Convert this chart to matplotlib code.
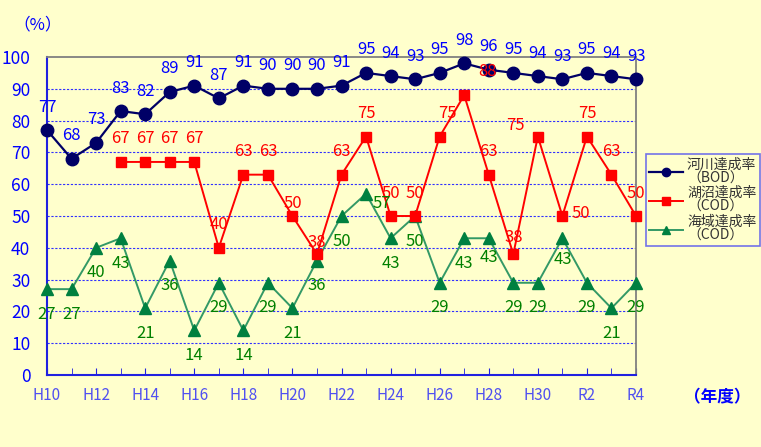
import matplotlib.pyplot as plt
import numpy as np

plt.rcParams['font.family'] = ['Noto Sans CJK JP', 'DejaVu Sans']

# fiscal years H10 .. R4
years = ['H10', 'H11', 'H12', 'H13', 'H14', 'H15', 'H16', 'H17', 'H18', 'H19',
         'H20', 'H21', 'H22', 'H23', 'H24', 'H25', 'H26', 'H27', 'H28', 'H29',
         'H30', 'R1', 'R2', 'R3', 'R4']
tick_labels = ['H10', 'H12', 'H14', 'H16', 'H18', 'H20', 'H22', 'H24', 'H26',
               'H28', 'H30', 'R2', 'R4']

river = [77, 68, 73, 83, 82, 89, 91, 87, 91, 90, 90, 90, 91, 95, 94, 93, 95,
         98, 96, 95, 94, 93, 95, 94, 93]
lake = [np.nan, np.nan, np.nan, 67, 67, 67, 67, 40, 63, 63, 50, 38, 63, 75,
        50, 50, 75, 88, 63, 38, 75, 50, 75, 63, 50]
sea = [27, 27, 40, 43, 21, 36, 14, 29, 14, 29, 21, 36, 50, 57, 43, 50, 29, 43,
       43, 29, 29, 43, 29, 21, 29]

# label offsets in pixels where the default spot is crowded
lake_shift = {10: (0, 13), 11: (0, 12), 16: (8, 23), 17: (23, 24),
              19: (0, 17), 20: (-22, 11), 21: (19, 3)}
sea_shift = {13: (16, -10), 18: (0, -19), 21: (0, -21)}

bg = '#FFFFCC'
fig = plt.figure(figsize=(7.61, 4.47), dpi=100, facecolor=bg)
ax = fig.add_axes([47 / 761, 72 / 447, 589 / 761, 318 / 447], facecolor=bg)

x = np.arange(len(years))

ax.plot(x, river, color='#000066', lw=1.6, marker='o', ms=9,
        label='河川達成率\n（BOD）', clip_on=False, zorder=5)
ax.plot(x, lake, color='#FF0000', lw=1.4, marker='s', ms=7,
        label='湖沼達成率\n（COD）', clip_on=False, zorder=4)
ax.plot(x, sea, color='#339966', lw=1.4, marker='^', ms=8.5,
        markerfacecolor='#008040', markeredgecolor='#008040',
        label='海域達成率\n（COD）', clip_on=False, zorder=3)

lbl = dict(textcoords='offset pixels', ha='center', va='center', fontsize=12,
           annotation_clip=False, zorder=6)
for i, v in enumerate(river):
    ax.annotate(str(v), (i, v), xytext=(0, 23), color='#0000FF', **lbl)
for i, v in enumerate(lake):
    if np.isnan(v):
        continue
    dx, dy = lake_shift.get(i, (0, 23))
    ax.annotate(str(int(v)), (i, v), xytext=(dx, dy), color='#FF0000', **lbl)
for i, v in enumerate(sea):
    dx, dy = sea_shift.get(i, (0, -25))
    ax.annotate(str(v), (i, v), xytext=(dx, dy), color='#008000', **lbl)

ax.set_xlim(0, len(years) - 1)
ax.set_ylim(0, 100)
ax.set_yticks(range(0, 101, 10))
ax.set_xticks(x, minor=True)
ax.set_xticks(x[::2])
ax.set_xticklabels(tick_labels)
ax.tick_params(axis='y', length=0, pad=12, labelsize=12.5, labelcolor='#0000FF')
ax.tick_params(axis='x', which='both', direction='in', length=5, color='#2020E0',
               pad=9, labelsize=11, labelcolor='#5050F0')

for y in range(10, 100, 10):
    ax.axhline(y, color='#3030FF', lw=0.8, ls=(0, (2, 1.5)), zorder=1)

ax.spines['left'].set_color('#2020E0')
ax.spines['bottom'].set_color('#2020E0')
ax.spines['left'].set_linewidth(1.5)
ax.spines['bottom'].set_linewidth(1.5)
ax.spines['top'].set_color('#808080')
ax.spines['right'].set_color('#808080')
ax.spines['top'].set_linewidth(1.3)
ax.spines['right'].set_linewidth(1.3)

fig.text(38 / 761, 1 - 25 / 447, '（%）', ha='center', va='center',
         color='#0000FF', fontsize=12)
fig.text(717 / 761, 1 - 397 / 447, '（年度）', ha='center', va='center',
         color='#0000FF', fontsize=12, fontweight='bold')

leg = ax.legend(loc='upper left', bbox_to_anchor=(646 / 761, 1 - 154 / 447),
                bbox_transform=fig.transFigure, fontsize=10, frameon=True,
                fancybox=False, edgecolor='#5050F0', facecolor=bg,
                handlelength=2.4, borderpad=0.25, labelspacing=0.05,
                handletextpad=0.3, borderaxespad=0)
leg.get_frame().set_linewidth(1.2)
for t in leg.get_texts():
    t.set_color('#333333')
    t.set_linespacing(1.0)
for h in leg.legend_handles:
    h.set_markersize(6)

fig.savefig('out.png', dpi=100, facecolor=bg)
